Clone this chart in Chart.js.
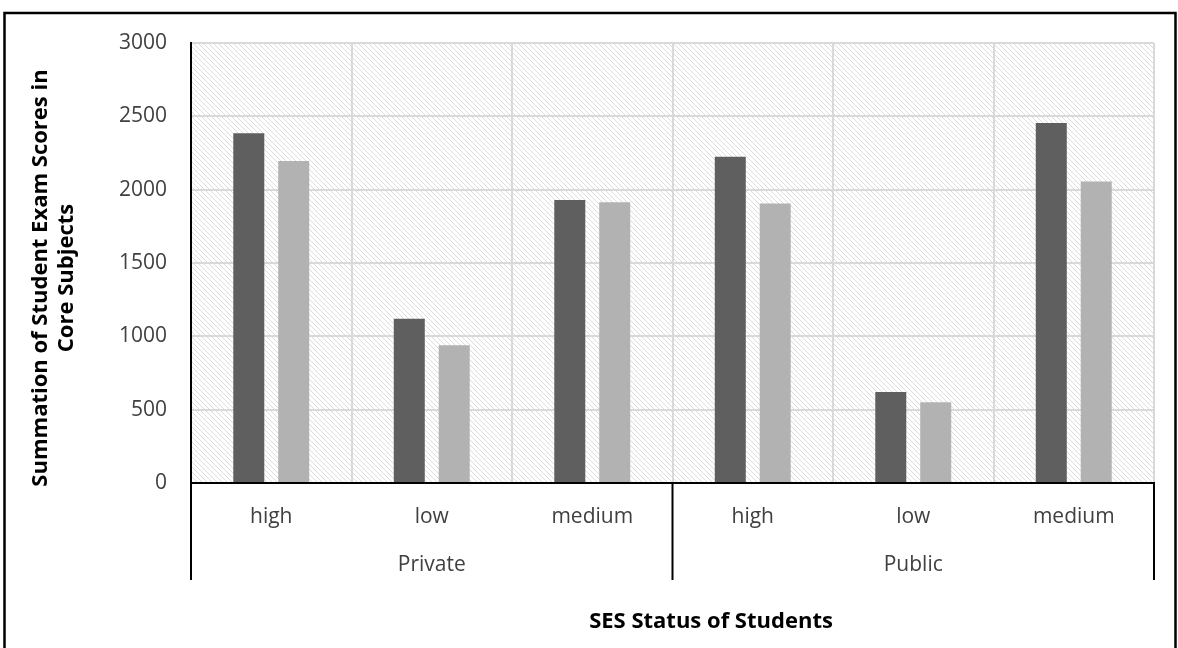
<!DOCTYPE html>
<html>
<head>
<meta charset="utf-8">
<script src="https://cdn.jsdelivr.net/npm/chart.js@4.4.1/dist/chart.umd.min.js"></script>
<style>
  html, body { margin: 0; padding: 0; background: #ffffff; }
  canvas { display: block; }
</style>
</head>
<body>
<canvas id="chart" width="1178" height="648"></canvas>
<script>
// SES level of each bar group, and the school type each trio belongs to
const sesLevels = ['high', 'low', 'medium', 'high', 'low', 'medium'];
const schoolTypes = ['Private', 'Public'];
const levelsPerSchool = 3;

// Summed exam scores in core subjects (two series per group)
const darkSeries = [2385, 1120, 1930, 2225, 620, 2455];
const lightSeries = [2195, 940, 1915, 1905, 550, 2055];

// Value axis
const yMin = 0;
const yMax = 3000;
const yStep = 500;

const yTitleLines = ['Summation of Student Exam Scores in', 'Core Subjects'];
const xTitle = 'SES Status of Students';

const FONT = '"Open Sans", "Noto Sans", "Liberation Sans", sans-serif';
const LABEL_COLOR = '#404040';
const GRID_COLOR = '#d9d9d9';

function makeHatch(ctx) {
  const tile = document.createElement('canvas');
  tile.width = 5; tile.height = 5;
  const t = tile.getContext('2d');
  t.fillStyle = '#ffffff';
  t.fillRect(0, 0, 5, 5);
  t.strokeStyle = '#dcdcdc';
  t.lineWidth = 1;
  t.beginPath();
  t.moveTo(-1, -1); t.lineTo(6, 6);
  t.moveTo(-1, 4); t.lineTo(1, 6);
  t.moveTo(4, -1); t.lineTo(6, 1);
  t.stroke();
  return ctx.createPattern(tile, 'repeat');
}

const decorations = {
  id: 'decorations',
  beforeDraw(chart) {
    const { ctx, chartArea: a } = chart;
    ctx.save();
    ctx.fillStyle = '#ffffff';
    ctx.fillRect(0, 0, chart.width, chart.height);
    ctx.fillStyle = makeHatch(ctx);
    ctx.fillRect(a.left, a.top, a.right - a.left, a.bottom - a.top);
    ctx.restore();
  },
  afterDraw(chart) {
    const { ctx, chartArea: a } = chart;
    const x = chart.scales.x;
    ctx.save();

    // group separators below the category axis
    const sepBottom = 580;
    const seps = [x.left];
    for (let g = 1; g < schoolTypes.length; g++) {
      const i = g * levelsPerSchool;
      seps.push((x.getPixelForTick(i - 1) + x.getPixelForTick(i)) / 2);
    }
    seps.push(x.right);
    ctx.strokeStyle = '#000000';
    ctx.lineWidth = 2;
    ctx.beginPath();
    seps.forEach(px => { ctx.moveTo(px, a.bottom); ctx.lineTo(px, sepBottom); });
    ctx.stroke();

    // school type labels
    ctx.fillStyle = LABEL_COLOR;
    ctx.font = '21px ' + FONT;
    ctx.textAlign = 'center';
    ctx.textBaseline = 'alphabetic';
    schoolTypes.forEach((name, g) => {
      const first = x.getPixelForTick(g * levelsPerSchool);
      const last = x.getPixelForTick(g * levelsPerSchool + levelsPerSchool - 1);
      ctx.fillText(name, (first + last) / 2, 571);
    });

    // axis titles
    ctx.fillStyle = '#000000';
    ctx.font = 'bold 22px ' + FONT;
    ctx.fillText(xTitle, 711, 628);

    ctx.save();
    ctx.translate(0, 278);
    ctx.rotate(-Math.PI / 2);
    ctx.textBaseline = 'middle';
    ctx.fillText(yTitleLines[0], 0, 41);
    ctx.fillText(yTitleLines[1], 0, 67);
    ctx.restore();

    // outer frame
    ctx.strokeStyle = '#000000';
    ctx.lineWidth = 2.5;
    ctx.strokeRect(4.5, 13, 1171, 700);
    ctx.restore();
  }
};

const ctx = document.getElementById('chart').getContext('2d');
new Chart(ctx, {
  type: 'bar',
  data: {
    labels: sesLevels,
    datasets: [
      { label: 'Series 1', data: darkSeries, backgroundColor: '#5f5f5f' },
      { label: 'Series 2', data: lightSeries, backgroundColor: '#b2b2b2' }
    ]
  },
  options: {
    responsive: false,
    animation: false,
    devicePixelRatio: 1,
    layout: { padding: { top: 43, right: 24, left: 0, bottom: 0 } },
    datasets: { bar: { categoryPercentage: 0.56, barPercentage: 0.69 } },
    plugins: { legend: { display: false }, tooltip: { enabled: false }, title: { display: false } },
    scales: {
      x: {
        grid: {
          offset: true,
          drawTicks: false,
          lineWidth: 2,
          color: c => (c.index === 0 ? 'rgba(0,0,0,0)' : GRID_COLOR)
        },
        border: { color: '#000000', width: 2 },
        ticks: { color: LABEL_COLOR, font: { family: FONT, size: 21 }, padding: 21, maxRotation: 0 },
        afterFit: s => { s.height = 165; }
      },
      y: {
        min: yMin,
        max: yMax,
        grid: {
          drawTicks: false,
          lineWidth: 2,
          color: c => (c.tick && c.tick.value === 0 ? 'rgba(0,0,0,0)' : GRID_COLOR)
        },
        border: { color: '#000000', width: 2 },
        ticks: {
          stepSize: yStep,
          color: LABEL_COLOR,
          font: { family: FONT, size: 21 },
          padding: 24,
          callback: v => String(v)
        },
        afterFit: s => { s.width = 191; }
      }
    }
  },
  plugins: [decorations]
});
</script>
</body>
</html>
